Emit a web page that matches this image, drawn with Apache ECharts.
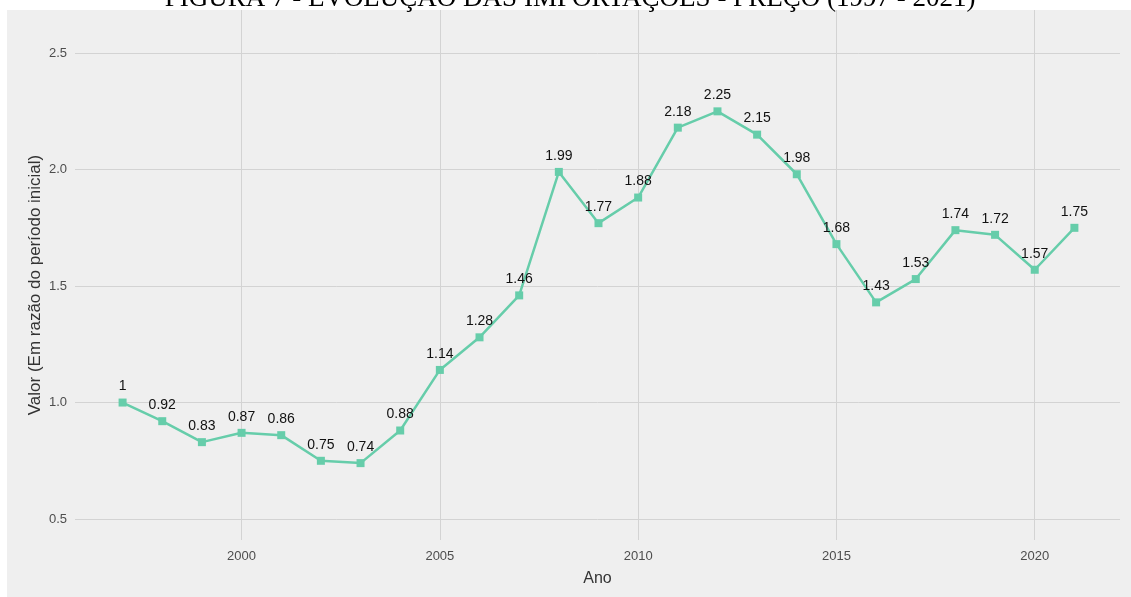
<!DOCTYPE html>
<html>
<head>
    <meta charset="utf-8" />
    <title>Evolução das importações - preço</title>
    <style type="text/css">
        html,body{margin:0;padding:0;background:#fff;}
        #line{width:1131px;height:597px;}
    </style>
</head>
<body>
<div id="line"></div>
<script src="https://cdn.jsdelivr.net/npm/echarts@6/dist/echarts.min.js"></script>
<script>
    // dados
    var anos = [1997,1998,1999,2000,2001,2002,2003,2004,2005,2006,2007,2008,2009,
                2010,2011,2012,2013,2014,2015,2016,2017,2018,2019,2020,2021];
    var valores = [1,0.92,0.83,0.87,0.86,0.75,0.74,0.88,1.14,1.28,1.46,1.99,1.77,
                   1.88,2.18,2.25,2.15,1.98,1.68,1.43,1.53,1.74,1.72,1.57,1.75];
    var ticksX = [2000,2005,2010,2015,2020];
    var ticksY = [0.5,1.0,1.5,2.0,2.5];

    var pontos = [];
    for (var i = 0; i < anos.length; i++) {
        pontos.push([anos[i], valores[i]]);
    }

    var line = echarts.init(document.getElementById('line'));
    line.setOption({
        backgroundColor: '#ffffff',
        animation: false,
        graphic: [
            {
                type: 'rect',
                z: -10,
                shape: {x: 7, y: 10, width: 1124, height: 587},
                style: {fill: '#efefef'}
            },
            {
                type: 'text',
                z: 10,
                x: 570,
                y: 12,
                style: {
                    text: 'FIGURA 7 - EVOLUÇÃO DAS IMPORTAÇÕES - PREÇO (1997 - 2021)',
                    font: '27px "Liberation Serif", "Times New Roman", serif',
                    fill: '#000',
                    align: 'center',
                    verticalAlign: 'bottom'
                }
            }
        ],
        grid: {left: 75, right: 11, top: 10, bottom: 57},
        xAxis: {
            type: 'value',
            min: 1995.8,
            max: 2022.15,
            name: 'Ano',
            nameLocation: 'middle',
            nameGap: 31,
            nameTextStyle: {fontSize: 16, color: '#333', fontFamily: 'Liberation Sans'},
            axisLine: {show: false},
            axisTick: {show: false, customValues: ticksX},
            axisLabel: {
                customValues: ticksX,
                formatter: function (v) { return String(v); },
                color: '#4d4d4d',
                fontSize: 13,
                margin: 10,
                fontFamily: 'Liberation Sans'
            },
            splitLine: {show: true, lineStyle: {color: '#d3d3d3', width: 1}}
        },
        yAxis: {
            type: 'value',
            min: 0.41,
            max: 2.685,
            name: 'Valor (Em razão do período inicial)',
            nameLocation: 'middle',
            nameGap: 31,
            nameMoveOverlap: false,
            nameTextStyle: {fontSize: 17, color: '#333', fontFamily: 'Liberation Sans', padding: [0, 20, 0, 0]},
            axisLine: {show: false},
            axisTick: {show: false, customValues: ticksY},
            axisLabel: {
                customValues: ticksY,
                formatter: function (v) { return v.toFixed(1); },
                color: '#4d4d4d',
                fontSize: 13,
                margin: 8,
                fontFamily: 'Liberation Sans'
            },
            splitLine: {show: true, lineStyle: {color: '#d3d3d3', width: 1}}
        },
        series: [
            {
                name: 'Valor',
                type: 'line',
                data: pontos,
                symbol: 'rect',
                symbolSize: 8,
                color: '#66cdaa',
                lineStyle: {color: '#66cdaa', width: 2.5},
                itemStyle: {color: '#66cdaa'},
                label: {
                    show: true,
                    position: 'top',
                    distance: 5,
                    color: '#111',
                    fontSize: 14,
                    fontFamily: 'Liberation Sans',
                    formatter: function (p) { return String(p.value[1]); }
                }
            }
        ]
    });
</script>
</body>
</html>
